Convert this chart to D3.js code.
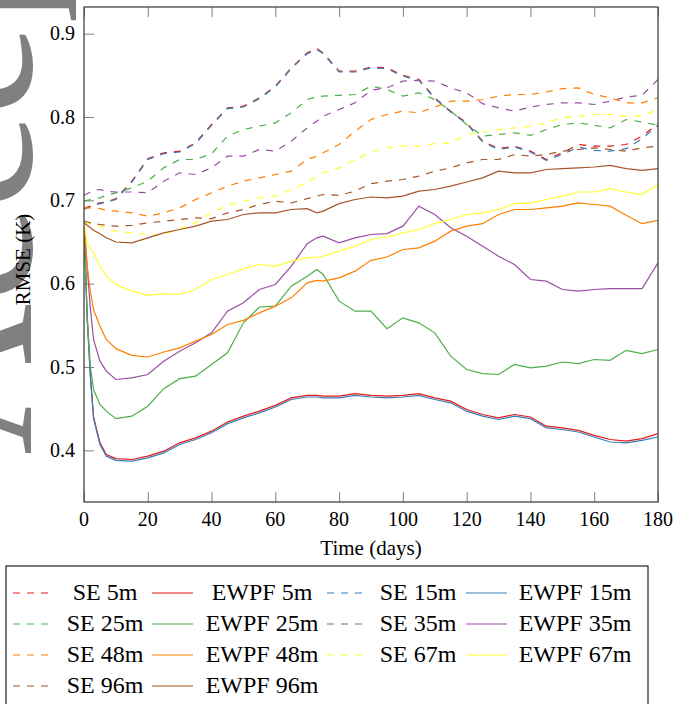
<!DOCTYPE html>
<html lang="en">
<head>
<meta charset="utf-8">
<title>RMSE by depth</title>
<script src="https://cdnjs.cloudflare.com/ajax/libs/d3/7.8.5/d3.min.js"></script>
<style>
  body { margin: 0; background: #fff; }
  svg text { font-family: "Liberation Serif", "DejaVu Serif", serif; fill: #000; }
</style>
</head>
<body>
<div id="chart"></div>
<script>
// time axis (days), shared by every series
var days = [0,1,2,3,5,7,10,15,20,25,30,35,40,45,50,55,60,65,70,73,75,80,85,90,95,100,105,110,115,120,125,130,135,140,145,150,155,160,165,170,175,180];

// SE runs (dashed)
var se5  = [.690,.692,.693,.695,.697,.698,.702,.723,.750,.757,.759,.769,.791,.811,.813,.823,.837,.859,.877,.882,.877,.855,.855,.860,.859,.850,.845,.823,.807,.793,.771,.762,.765,.759,.749,.757,.767,.765,.765,.767,.777,.792];
var se15 = [.689,.691,.692,.694,.696,.698,.701,.722,.749,.756,.758,.768,.790,.810,.812,.822,.836,.858,.876,.881,.876,.854,.854,.859,.858,.849,.844,.822,.806,.792,.770,.761,.764,.758,.748,.755,.764,.760,.759,.762,.774,.790];
var se25 = [.699,.700,.701,.702,.703,.706,.709,.715,.723,.739,.749,.749,.756,.777,.785,.789,.793,.805,.821,.824,.825,.826,.827,.837,.833,.825,.829,.821,.807,.791,.777,.779,.781,.778,.785,.791,.793,.790,.787,.797,.794,.790];
var se35 = [.706,.708,.710,.712,.713,.711,.710,.710,.709,.723,.733,.731,.739,.753,.753,.761,.759,.771,.787,.795,.801,.809,.817,.832,.835,.843,.844,.843,.835,.829,.816,.811,.807,.812,.815,.817,.817,.815,.819,.824,.826,.845];
var se48 = [.691,.691,.691,.691,.690,.688,.687,.685,.681,.685,.691,.701,.709,.717,.723,.727,.731,.735,.749,.753,.757,.767,.783,.797,.803,.807,.805,.812,.819,.819,.821,.825,.827,.827,.830,.834,.835,.827,.823,.817,.817,.823];
var se67 = [.673,.673,.672,.671,.669,.666,.663,.661,.659,.659,.666,.673,.685,.694,.699,.703,.705,.713,.721,.729,.733,.739,.749,.758,.763,.765,.765,.768,.769,.779,.782,.785,.787,.789,.793,.799,.801,.803,.803,.801,.801,.809];
var se96 = [.675,.674,.673,.672,.671,.670,.669,.670,.673,.675,.677,.679,.678,.685,.689,.695,.699,.697,.702,.705,.707,.706,.711,.720,.723,.725,.729,.735,.739,.745,.749,.749,.755,.753,.755,.759,.761,.763,.761,.759,.763,.765];

// EWPF runs (solid)
var ew5  = [.674,.560,.490,.440,.409,.395,.390,.389,.393,.399,.409,.415,.423,.434,.441,.447,.454,.463,.466,.466,.465,.465,.468,.466,.465,.466,.468,.463,.459,.449,.443,.439,.443,.440,.429,.427,.424,.418,.413,.411,.414,.420];
var ew15 = [.674,.558,.488,.438,.407,.393,.388,.387,.391,.397,.407,.413,.421,.432,.439,.445,.452,.461,.464,.464,.463,.463,.466,.464,.463,.464,.466,.461,.457,.447,.441,.437,.441,.438,.427,.425,.422,.416,.410,.409,.412,.416];
var ew25 = [.674,.560,.500,.473,.455,.447,.438,.441,.453,.474,.486,.489,.503,.517,.553,.572,.573,.597,.609,.617,.611,.579,.567,.567,.546,.559,.553,.541,.513,.497,.492,.491,.503,.499,.501,.506,.504,.509,.508,.520,.516,.521];
var ew35 = [.674,.620,.570,.533,.507,.495,.485,.487,.491,.507,.519,.529,.541,.567,.577,.593,.599,.621,.648,.655,.657,.649,.655,.659,.660,.669,.693,.683,.667,.657,.645,.633,.623,.605,.603,.593,.591,.593,.594,.594,.594,.625];
var ew48 = [.674,.621,.590,.569,.549,.533,.522,.514,.512,.518,.523,.531,.539,.551,.556,.565,.573,.583,.601,.604,.603,.607,.615,.628,.632,.641,.643,.651,.663,.669,.672,.683,.689,.689,.691,.693,.697,.695,.693,.682,.672,.676];
var ew67 = [.674,.648,.642,.637,.621,.609,.599,.591,.586,.588,.587,.593,.605,.611,.618,.623,.621,.627,.631,.632,.633,.639,.645,.653,.656,.661,.665,.672,.677,.683,.685,.689,.696,.697,.701,.705,.710,.710,.714,.710,.707,.719];
var ew96 = [.673,.670,.667,.664,.660,.655,.650,.649,.655,.661,.665,.669,.675,.677,.683,.685,.685,.689,.690,.685,.687,.696,.701,.704,.703,.705,.711,.713,.717,.722,.727,.735,.733,.733,.737,.738,.739,.740,.742,.738,.736,.738];

// legend order = drawing order
var names  = ["SE 5m","EWPF 5m","SE 15m","EWPF 15m","SE 25m","EWPF 25m","SE 35m","EWPF 35m",
              "SE 48m","EWPF 48m","SE 67m","EWPF 67m","SE 96m","EWPF 96m"];
var values = [se5, ew5, se15, ew15, se25, ew25, se35, ew35, se48, ew48, se67, ew67, se96, ew96];
var colors = ["#e41a1c","#377eb8","#4daf4a","#984ea3","#ff7f00","#ffff33","#a65628"];

var xTicks = [0,20,40,60,80,100,120,140,160,180];
var yTicks = [0.4,0.5,0.6,0.7,0.8,0.9];

var W = 673, H = 704;
var plotL = 84, plotR = 658, plotT = 7, plotB = 502;

var svg = d3.select("#chart").append("svg")
    .attr("width", W).attr("height", H);

svg.append("rect").attr("width", W).attr("height", H).attr("fill", "#fff");

// watermark, cut off at the left edge
svg.append("text")
    .attr("transform", "translate(31,455) rotate(-90)")
    .attr("font-size", 210)
    .style("fill", "#808080")
    .text("Accepted");

var x = d3.scaleLinear().domain([0, 180]).range([plotL, plotR]);
var y = d3.scaleLinear().domain([0.338, 0.932]).range([plotB, plotT]);

svg.append("clipPath").attr("id", "plotclip")
  .append("rect").attr("x", plotL).attr("y", plotT)
  .attr("width", plotR - plotL).attr("height", plotB - plotT);

// ticks (inside; left, bottom and top)
function grayTicks(g){ g.select(".domain").remove(); g.selectAll("line").attr("stroke", "#808080"); }
svg.append("g").attr("transform", "translate(" + plotL + ",0)")
  .call(d3.axisRight(y).tickValues(yTicks).tickSize(10).tickFormat(""))
  .call(grayTicks);
svg.append("g").attr("transform", "translate(0," + plotB + ")")
  .call(d3.axisTop(x).tickValues(xTicks).tickSize(10).tickFormat(""))
  .call(grayTicks);
svg.append("g").attr("transform", "translate(0," + plotT + ")")
  .call(d3.axisBottom(x).tickValues(xTicks).tickSize(10).tickFormat(""))
  .call(grayTicks);

// tick labels
svg.append("g").selectAll("text").data(yTicks).join("text")
    .attr("x", 75).attr("y", function(d){ return y(d); }).attr("dy", "0.33em")
    .attr("text-anchor", "end").attr("font-size", 20)
    .text(function(d){ return d3.format(".1f")(d); });
svg.append("g").selectAll("text").data(xTicks).join("text")
    .attr("x", function(d){ return x(d); }).attr("y", 526)
    .attr("text-anchor", "middle").attr("font-size", 20)
    .text(function(d){ return d; });

svg.append("text").attr("x", (plotL + plotR) / 2).attr("y", 555)
    .attr("text-anchor", "middle").attr("font-size", 21).text("Time (days)");
svg.append("text").attr("transform", "translate(30," + ((plotT + plotB) / 2 + 5) + ") rotate(-90)")
    .attr("text-anchor", "middle").attr("font-size", 21).text("RMSE (K)");

// lines
var line = d3.line()
    .x(function(d, i){ return x(days[i]); })
    .y(function(d){ return y(d); });

var plot = svg.append("g").attr("clip-path", "url(#plotclip)");
values.forEach(function(vals, k){
  plot.append("path")
      .attr("d", line(vals))
      .attr("fill", "none")
      .attr("stroke", colors[Math.floor(k / 2)])
      .attr("stroke-width", 1.2)
      .attr("stroke-dasharray", k % 2 == 0 ? "7,7" : null);
});

// frame
svg.append("rect").attr("x", plotL).attr("y", plotT)
    .attr("width", plotR - plotL).attr("height", plotB - plotT)
    .attr("fill", "none").attr("stroke", "#444").attr("stroke-width", 1.3);

// legend, 4 columns
var lgX = [13, 152, 327, 466], lgText = [105, 262, 418, 575], lgRow = [600, 631, 662, 693];
svg.append("rect").attr("x", 6).attr("y", 566).attr("width", 642).attr("height", 150)
    .attr("fill", "#fff").attr("stroke", "#222").attr("stroke-width", 1.2);
var lg = svg.append("g").selectAll("g").data(names).join("g")
    .attr("transform", function(d, i){ return "translate(0," + lgRow[Math.floor(i / 4)] + ")"; });
lg.append("line")
    .attr("x1", function(d, i){ return lgX[i % 4]; })
    .attr("x2", function(d, i){ return lgX[i % 4] + 41; })
    .attr("y1", -7).attr("y2", -7)
    .attr("stroke", function(d, i){ return colors[Math.floor(i / 2)]; })
    .attr("stroke-width", 1.2)
    .attr("stroke-dasharray", function(d, i){ return i % 2 == 0 ? "7,7" : null; });
lg.append("text")
    .attr("x", function(d, i){ return lgText[i % 4]; })
    .attr("text-anchor", "middle").attr("font-size", 24)
    .text(function(d){ return d; });
</script>
</body>
</html>
